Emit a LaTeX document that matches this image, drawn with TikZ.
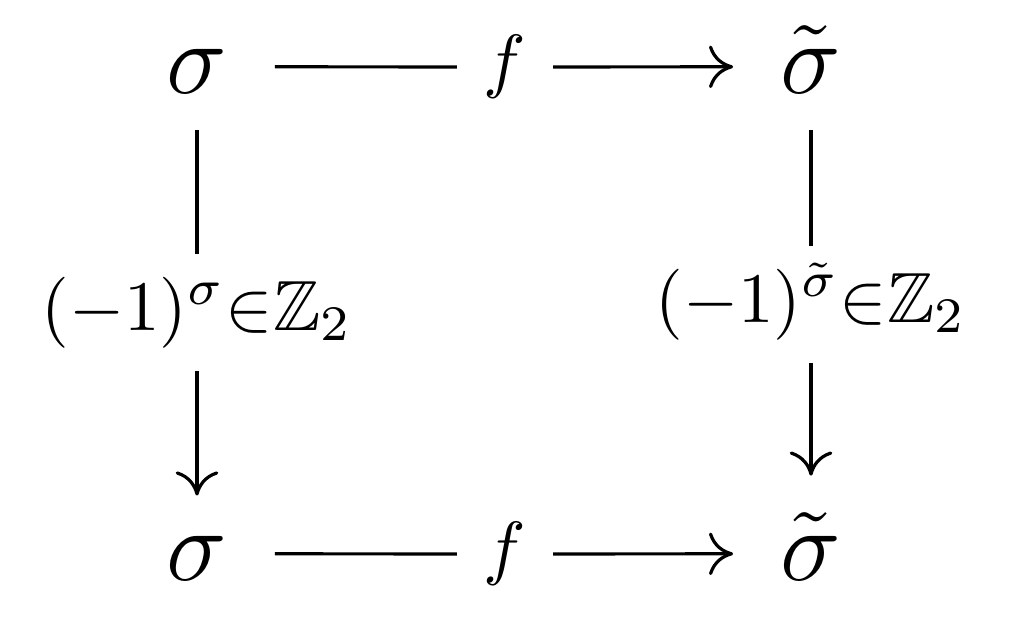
\documentclass[tikz,border=0pt]{standalone}
\usepackage{amssymb}
\usetikzlibrary{arrows.meta}
\begin{document}
\begin{tikzpicture}[x=0.1408pt,y=-0.1408pt,
  corner/.style={font=\Large, text height=7.4pt, text depth=0pt, inner xsep=6.5pt, inner ysep=5pt, anchor=base},
  maplabel/.style={text height=6.94pt, text depth=2.14pt, inner xsep=3.6pt, inner ysep=0pt, anchor=base},
  vlabel/.style={text height=7.5pt, text depth=2.5pt, inner xsep=0pt, inner ysep=3pt, anchor=base},
  conn/.style={line width=0.45pt},
  arr/.style={conn, -{Computer Modern Rightarrow[length=3.4pt,width=6pt]}}]
\useasboundingbox (0,0) rectangle (1009,622);
\node[corner] (A) at (197,93) {$\sigma$};
\node[corner] (B) at (811,93) {$\tilde{\sigma}$};
\node[corner] (C) at (197,580) {$\sigma$};
\node[corner] (D) at (811,580) {$\tilde{\sigma}$};
\node[maplabel] (fT) at (505,84) {$f$};
\node[maplabel] (fB) at (505,571) {$f$};
\node[vlabel] (LL) at (197,330) {$(-1)^{\sigma}{\in}\mathbb{Z}_2$};
\node[vlabel] (LR) at (811,322) {$(-1)^{\tilde{\sigma}}{\in}\mathbb{Z}_2$};
\draw[conn] (A) -- (fT);
\draw[arr] (fT) -- (B);
\draw[conn] (C) -- (fB);
\draw[arr] (fB) -- (D);
\draw[conn] (A) -- (LL);
\draw[arr, shorten >=-0.7pt] (LL) -- (C);
\draw[conn] (B) -- (LR);
\draw[arr, shorten >=2.1pt] (LR) -- (D);
\end{tikzpicture}
\end{document}
